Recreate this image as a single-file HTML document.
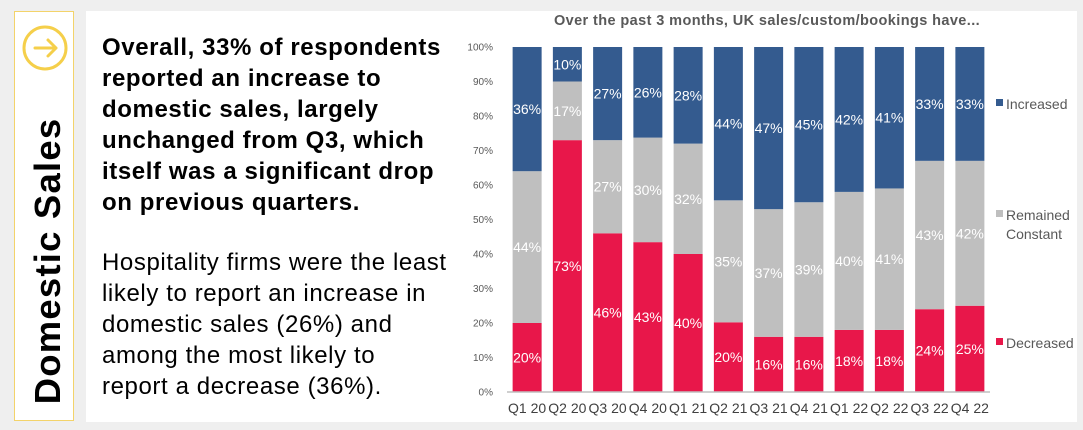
<!DOCTYPE html>
<html><head><meta charset="utf-8"><style>
body{margin:0;width:1083px;height:430px;background:#efefef;font-family:"Liberation Sans",sans-serif;position:relative;overflow:hidden}
#side{position:absolute;left:14px;top:11px;width:60px;height:410px;border:1.5px solid #f3d36a;background:#fff;box-sizing:border-box}
#panel{position:absolute;left:86px;top:11px;width:991px;height:411px;background:#fff}
.p{position:absolute;left:102px;font-size:24px;line-height:31px;letter-spacing:0.6px;color:#000;margin:0;white-space:nowrap}
</style></head><body>
<div id="side">
<svg width="60" height="410" style="position:absolute;left:-1px;top:-1px">
<g><circle cx="31" cy="37" r="21" fill="none" stroke="#f5cf4a" stroke-width="3"/>
<path d="M21 37 H42 M34 29 L42 37 L34 45" stroke="#f5cf4a" stroke-width="3" fill="none" stroke-linecap="round" stroke-linejoin="round"/></g>
<text transform="translate(46,250) rotate(-90)" text-anchor="middle" font-size="36.5" font-weight="bold" letter-spacing="1.2" fill="#000" font-family="Liberation Sans">Domestic Sales</text>
</svg></div>
<div id="panel"></div>
<p class="p" style="top:32px;font-weight:bold">Overall, 33% of respondents<br>reported an increase to<br>domestic sales, largely<br>unchanged from Q3, which<br>itself was a significant drop<br>on previous quarters.</p>
<p class="p" style="top:247px">Hospitality firms were the least<br>likely to report an increase in<br>domestic sales (26%) and<br>among the most likely to<br>report a decrease (36%).</p>
<svg id="chart" width="1083" height="430" style="position:absolute;left:0;top:0"></svg>
<script>
const categories=["Q1 20","Q2 20","Q3 20","Q4 20","Q1 21","Q2 21","Q3 21","Q4 21","Q1 22","Q2 22","Q3 22","Q4 22"];
const decreased=[20,73,46,43,40,20,16,16,18,18,24,25];
const constant=[44,17,27,30,32,35,37,39,40,41,43,42];
const increased=[36,10,27,26,28,44,47,45,42,41,33,33];
const yTicks=[0,10,20,30,40,50,60,70,80,90,100];
const NS="http://www.w3.org/2000/svg";
const svg=document.getElementById('chart');
const y0=392,y1=47,x0=507,x1=990,bw=29;
const y=v=>y0-(y0-y1)*v/100;
const step=(x1-x0)/categories.length;
const xc=i=>x0+step*(i+0.5);
function mk(tag,attrs,txt){const e=document.createElementNS(NS,tag);for(const k in attrs)e.setAttribute(k,attrs[k]);if(txt!==undefined)e.textContent=txt;svg.appendChild(e);return e;}
const title=mk('text',{x:767,y:25,'text-anchor':'middle','font-size':14.5,'font-weight':'bold','letter-spacing':0.4,fill:'#595959'},'Over the past 3 months, UK sales/custom/bookings have...');


yTicks.forEach(t=>{const e=mk('text',{x:493,y:y(t)+3.5,'text-anchor':'end','font-size':10,fill:'#595959'},t+'%');

});
const series=[{v:decreased,c:'#e8174a',n:'decreased',tc:'#fff'},{v:constant,c:'#bfbfbf',n:'constant',tc:'#fff'},{v:increased,c:'#345b8f',n:'increased',tc:'#fff'}];
categories.forEach((cat,i)=>{
 const tot=decreased[i]+constant[i]+increased[i];let acc=0;
 series.forEach(s=>{const v=s.v[i]*100/tot;const top=y(acc+v),bot=y(acc);
  const r=mk('rect',{x:xc(i)-bw/2,y:top,width:bw,height:bot-top,fill:s.c});
  
  
  const t=mk('text',{x:xc(i),y:(top+bot)/2+5,'text-anchor':'middle','font-size':14,fill:s.tc},s.v[i]+'%');
  
  
  acc+=v;});
 const xl=mk('text',{x:xc(i),y:413,'text-anchor':'middle','font-size':14,fill:'#404040'},cat);
 
 
});
const ax=mk('line',{x1:x0,x2:x1,y1:y0,y2:y0,stroke:'#bfbfbf','stroke-width':1.5});


const legend=[["Increased",'#345b8f',[104]],["Remained|Constant",'#bfbfbf',[215,234]],["Decreased",'#e8174a',[343]]];
legend.forEach(l=>{const g=document.createElementNS(NS,'g');svg.appendChild(g);
 
 
 const r=document.createElementNS(NS,'rect');r.setAttribute('x',996);r.setAttribute('y',l[2][0]-5);r.setAttribute('width',7);r.setAttribute('height',7);r.setAttribute('fill',l[1]);g.appendChild(r);
 l[0].split('|').forEach((s,k)=>{const t=document.createElementNS(NS,'text');t.setAttribute('x',1006);t.setAttribute('y',l[2][k]+5);t.setAttribute('font-size',14);t.setAttribute('fill','#595959');t.textContent=s;g.appendChild(t);});
});
</script>
</body></html>
